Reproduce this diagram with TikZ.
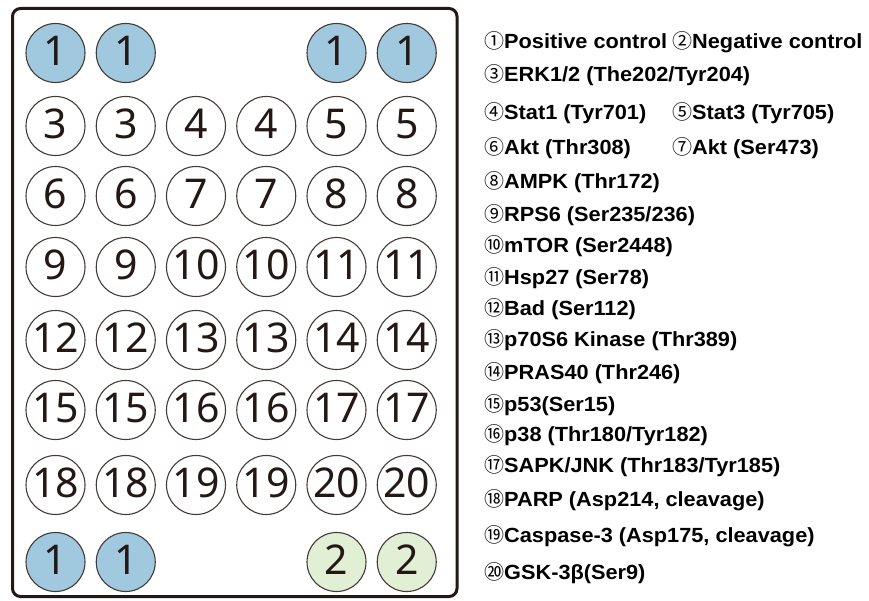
\documentclass[tikz,border=0pt]{standalone}
\usepackage{fontspec}
\setmainfont{Liberation Sans}
\newfontfamily\legendfont[FakeStretch=1.06]{Liberation Sans Bold}
\newfontfamily\wellfont{Noto Sans}
\newfontfamily\circfont{Noto Sans CJK SC}
\definecolor{ink}{HTML}{231815}
\definecolor{posblue}{HTML}{A0C8DE}
\definecolor{neggreen}{HTML}{E1EFD4}
\newcommand{\cn}[1]{{\circfont\fontsize{20}{20}\selectfont #1}}
\begin{document}
\begin{tikzpicture}[x=1pt,y=-1pt,
  well/.style={circle,draw=ink!85,line width=1.1pt,minimum size=59pt,inner sep=0pt,
    text height=29.3pt,text depth=5pt,
    font=\wellfont\fontsize{41}{41}\selectfont,text=ink},
  poswell/.style={well,fill=posblue},
  negwell/.style={well,fill=neggreen},
  legend/.style={anchor=base west,inner sep=0pt,font=\legendfont\fontsize{20.5}{20.5}\selectfont,text=black}]
\useasboundingbox (0,0) rectangle (869,601);
\fill[white] (0,0) rectangle (869,601);
\draw[ink,line width=3pt,rounded corners=8pt] (12.5,8.5) rectangle (457,596.5);
% row 1
\node[poswell] (w-1-1) at (55.5,53) {1};
\node[poswell] (w-1-2) at (125.75,53) {1};
\node[poswell] (w-1-5) at (336.5,53) {1};
\node[poswell] (w-1-6) at (406.75,53) {1};
% middle rows
\foreach \r/\yy/\a/\b/\c in {2/126/3/4/5, 3/196/6/7/8, 4/267/9/10/11, 5/340/12/13/14, 6/410/15/16/17, 7/485/18/19/20}{
  \node[well] (w-\r-1) at (55.5,\yy) {\a};
  \node[well] (w-\r-2) at (125.75,\yy) {\a};
  \node[well] (w-\r-3) at (196,\yy) {\b};
  \node[well] (w-\r-4) at (266.25,\yy) {\b};
  \node[well] (w-\r-5) at (336.5,\yy) {\c};
  \node[well] (w-\r-6) at (406.75,\yy) {\c};
}
% row 8
\node[poswell] (w-8-1) at (55.5,562) {1};
\node[poswell] (w-8-2) at (125.75,562) {1};
\node[negwell] (w-8-5) at (336.5,562) {2};
\node[negwell] (w-8-6) at (406.75,562) {2};
% legend
\node[legend] (l1) at (484,49) {\cn{①}Positive control};
\node[legend] (l2) at (672,49) {\cn{②}Negative control};
\node[legend] (l3) at (484,82) {\cn{③}ERK1/2 (The202/Tyr204)};
\node[legend] (l4) at (484,120) {\cn{④}Stat1 (Tyr701)};
\node[legend] (l5) at (672,120) {\cn{⑤}Stat3 (Tyr705)};
\node[legend] (l6) at (484,155) {\cn{⑥}Akt (Thr308)};
\node[legend] (l7) at (672,155) {\cn{⑦}Akt (Ser473)};
\node[legend] (l8) at (484,189) {\cn{⑧}AMPK (Thr172)};
\node[legend] (l9) at (484,222) {\cn{⑨}RPS6 (Ser235/236)};
\node[legend] (l10) at (484,253) {\cn{⑩}mTOR (Ser2448)};
\node[legend] (l11) at (484,284) {\cn{⑪}Hsp27 (Ser78)};
\node[legend] (l12) at (484,315) {\cn{⑫}Bad (Ser112)};
\node[legend] (l13) at (484,346) {\cn{⑬}p70S6 Kinase (Thr389)};
\node[legend] (l14) at (484,379) {\cn{⑭}PRAS40 (Thr246)};
\node[legend] (l15) at (484,411) {\cn{⑮}p53(Ser15)};
\node[legend] (l16) at (484,441) {\cn{⑯}p38 (Thr180/Tyr182)};
\node[legend] (l17) at (484,472) {\cn{⑰}SAPK/JNK (Thr183/Tyr185)};
\node[legend] (l18) at (484,506) {\cn{⑱}PARP (Asp214, cleavage)};
\node[legend] (l19) at (484,542) {\cn{⑲}Caspase-3 (Asp175, cleavage)};
\node[legend] (l20) at (484,579) {\cn{⑳}GSK-3β(Ser9)};
\end{tikzpicture}
\end{document}
